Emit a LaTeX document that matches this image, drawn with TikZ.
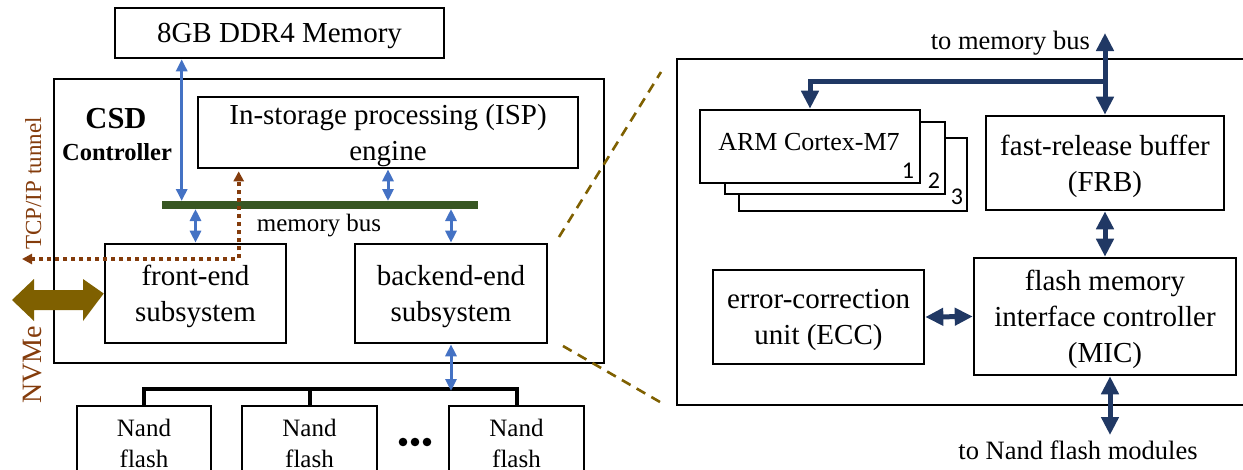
\documentclass[tikz,border=0pt]{standalone}
\usepackage{fontspec}
\setmainfont{Liberation Serif}
\newfontfamily\numfont{Carlito}
\usetikzlibrary{arrows.meta,calc}

\definecolor{busblue}{HTML}{4472C4}
\definecolor{navyblue}{HTML}{203864}
\definecolor{busgreen}{HTML}{385723}
\definecolor{tunnelbrown}{HTML}{843C0C}
\definecolor{nvmeolive}{HTML}{7F6000}

\newcommand\fsMain{\fontsize{29}{36}\selectfont}
\newcommand\fsNand{\fontsize{25}{31}\selectfont}
\newcommand\fsNote{\fontsize{26.5}{30}\selectfont}

\tikzset{
  blk/.style={draw, line width=2.6pt, fill=white, inner sep=0pt, align=center,
    font=\fsMain, text depth=-6pt},
  emptyblk/.style={draw, line width=2.6pt, fill=white, inner sep=0pt},
  nandbox/.style={draw, line width=2.6pt, fill=white, inner sep=0pt, align=center, font=\fsNand},
  bluearr/.style={busblue, line width=3pt,
    {Triangle[width=11pt,length=12pt]}-{Triangle[width=11pt,length=12pt]}},
  navyarr/.style={navyblue, line width=5pt,
    {Triangle[width=17pt,length=18pt]}-{Triangle[width=17pt,length=18pt]}},
  navyone/.style={navyblue, line width=5pt, line join=miter,
    -{Triangle[width=17pt,length=18pt]}},
  tunnelarr/.style={tunnelbrown, line width=4pt, dash pattern=on 4pt off 4pt,
    {Triangle[width=10pt,length=10pt]}-{Triangle[width=10pt,length=10pt]}},
  zoomline/.style={nvmeolive, line width=2.6pt, dash pattern=on 10pt off 7pt},
  nandlink/.style={black, line width=4pt, line join=miter},
  numlabel/.style={anchor=base east, inner sep=0pt, font=\numfont\fontsize{24}{24}\selectfont},
  plainlabel/.style={inner sep=0pt, font=\fsNote},
}

\begin{document}
\begin{tikzpicture}[x=1pt, y=-1pt]
\useasboundingbox (0,0) rectangle (1243,469);

% ---------------- left: CSD controller ----------------
\node[blk, minimum width=329pt, minimum height=50pt] (ddr) at (279.5,33) {8GB DDR4 Memory};

\draw[line width=2.6pt] (54,79) rectangle (604,363);
\node[anchor=base, inner sep=0pt, font=\bfseries\fontsize{30.5}{32}\selectfont] (csd) at (116,128) {CSD};
\node[anchor=base, inner sep=0pt, font=\bfseries\fontsize{24.5}{26}\selectfont] (ctrl) at (117,160) {Controller};

\node[blk, minimum width=380pt, minimum height=71pt] (isp) at (388,132.5) {In-storage processing (ISP)\\engine};

% memory bus bar
\coordinate (busL) at (162,205);
\coordinate (busR) at (478,205);
\coordinate (bt) at (0,201);
\coordinate (bb) at (0,209);
\draw[busgreen, line width=8pt] (busL) -- (busR);
\node[anchor=base, inner sep=0pt, font=\fontsize{25}{28}\selectfont] (buslbl) at (319,231) {memory bus};

\node[blk, minimum width=181pt, minimum height=99pt] (fe) at (195.5,293.5) {front-end\\subsystem};
\node[blk, minimum width=192pt, minimum height=99pt] (be) at (451,293.5) {backend-end\\subsystem};

% bus connections
\draw[bluearr] ([xshift=68pt]ddr.south west) -- ([xshift=68pt]ddr.south west |- bt);
\draw[bluearr] (isp.south) -- (isp.south |- bt);
\draw[bluearr] (fe.north |- bb) -- (fe.north);
\draw[bluearr] (be.north |- bb) -- (be.north);

% TCP/IP tunnel
\coordinate (tun) at (22,259);
\draw[tunnelarr] (tun) -| ([xshift=42pt,yshift=-2pt]isp.south west);
\node[anchor=base, rotate=90, inner sep=0pt, text=tunnelbrown, font=\fontsize{23}{25}\selectfont] (tcp) at (41,183.5) {TCP/IP tunnel};

% NVMe host link
\fill[nvmeolive] (12,300) -- (34,279) -- (34,290) -- (83,290) -- (83,279) -- (fe.west)
  -- (83,321) -- (83,310) -- (34,310) -- (34,321) -- cycle;
\node[anchor=base, rotate=90, inner sep=0pt, text=tunnelbrown, font=\fontsize{28}{30}\selectfont] (nvme) at (41,365) {NVMe};

% Nand flash packages
\node[nandbox, minimum width=134pt, minimum height=74pt] (n1) at (144,443) {Nand\\flash};
\node[nandbox, minimum width=135pt, minimum height=74pt] (n2) at (309.5,443) {Nand\\flash};
\node[nandbox, minimum width=135pt, minimum height=74pt] (n3) at (516.5,443) {Nand\\flash};
\foreach \dx in {403,415,427} \fill (\dx,442) circle (4.3pt);

\coordinate (nbus) at (450,389);
\draw[nandlink] (n1.north) |- (n3.north |- nbus) -- (n3.north);
\draw[nandlink] (n2.north) -- (n2.north |- nbus);
\draw[bluearr] (be.south) -- ([yshift=-2pt]be.south |- nbus);

% ---------------- zoom-in lines ----------------
\draw[zoomline] (559,237) -- (661,72);
\draw[zoomline] (563,346) -- (660,402);

% ---------------- right: controller detail ----------------
\draw[line width=2.6pt] (1252,59) -- (677,59) -- (677,405) -- (1252,405);

\node[emptyblk, minimum width=228pt, minimum height=73pt] (arm3) at (853,174.5) {};
\node[emptyblk, minimum width=220pt, minimum height=72pt] (arm2) at (835,158) {};
\node[emptyblk, minimum width=220pt, minimum height=73pt] (arm1) at (810,146.5) {};
\node[anchor=base, inner sep=0pt, font=\fontsize{26}{30}\selectfont] (armtxt) at (809,150) {ARM Cortex-M7};
\node[numlabel] (c1) at ($(arm1.south east)+(-7,-6)$) {1};
\node[numlabel] (c2) at ($(arm2.south east)+(-6,-7)$) {2};
\node[numlabel] (c3) at ($(arm3.south east)+(-5,-8)$) {3};

\node[blk, minimum width=238pt, minimum height=94pt] (frb) at (1105,163) {fast-release buffer\\(FRB)};
\node[blk, minimum width=262pt, minimum height=117pt] (mic) at (1105,316.5) {flash memory\\interface controller\\(MIC)};
\node[blk, minimum width=211pt, minimum height=94pt] (ecc) at (818.5,317) {error-correction\\unit (ECC)};

\coordinate (memtop) at (1105,33);
\coordinate (br) at (1105,81);
\coordinate (nandport) at (1110,435);
\node[plainlabel, anchor=base east] (tomem) at (1090,49) {to memory bus};
\node[plainlabel, anchor=base] (tonand) at (1078,459) {to Nand flash modules};

\draw[navyarr] (memtop) -- (frb.north);
\draw[navyone] (br) -| (arm1.north);
\draw[navyarr] (frb.south) -- (mic.north);
\draw[navyarr] (ecc.east) -- (mic.west);
\draw[navyarr] ([xshift=5pt]mic.south) -- (nandport);
\end{tikzpicture}
\end{document}
